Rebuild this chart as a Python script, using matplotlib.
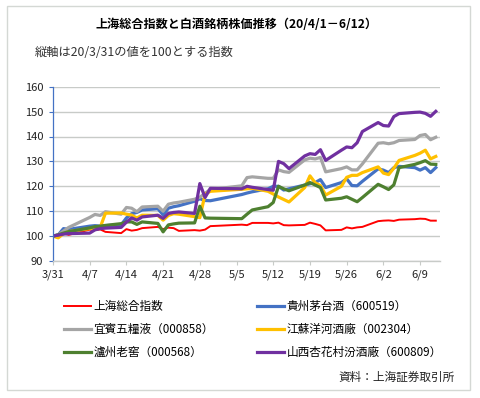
import matplotlib
matplotlib.use('Agg')
import matplotlib.pyplot as plt
import matplotlib.dates as mdates
from matplotlib.patches import Rectangle
import pandas as pd

plt.rcParams['font.family'] = ['Noto Sans CJK JP', 'DejaVu Sans']

# ---------------- data ----------------
dates = ['2020-03-31',
         '2020-04-01', '2020-04-02', '2020-04-03', '2020-04-07', '2020-04-08', '2020-04-09', '2020-04-10',
         '2020-04-13', '2020-04-14', '2020-04-15', '2020-04-16', '2020-04-17',
         '2020-04-20', '2020-04-21', '2020-04-22', '2020-04-23', '2020-04-24',
         '2020-04-27', '2020-04-28', '2020-04-29', '2020-04-30',
         '2020-05-06', '2020-05-07', '2020-05-08',
         '2020-05-11', '2020-05-12', '2020-05-13', '2020-05-14', '2020-05-15',
         '2020-05-18', '2020-05-19', '2020-05-20', '2020-05-21', '2020-05-22',
         '2020-05-25', '2020-05-26', '2020-05-27', '2020-05-28', '2020-05-29',
         '2020-06-01', '2020-06-02', '2020-06-03', '2020-06-04', '2020-06-05',
         '2020-06-08', '2020-06-09', '2020-06-10', '2020-06-11', '2020-06-12']

shanghai = [100.0, 99.4, 101.1, 100.5, 102.6, 102.4, 102.7, 101.7, 101.2, 102.8, 102.2, 102.5, 103.2,
            103.7, 102.8, 103.4, 103.2, 102.1, 102.4, 102.2, 102.6, 104.0,
            104.6, 104.4, 105.3, 105.3, 105.1, 105.4, 104.4, 104.3, 104.5, 105.4, 104.9, 104.3, 102.3,
            102.5, 103.5, 103.1, 103.5, 103.7,
            106.0, 106.2, 106.3, 106.1, 106.6, 106.8, 107.0, 106.9, 106.2, 106.2]
moutai = [100.0, 100.5, 103.0, 102.7, 104.0, 104.2, 104.0, 104.2, 104.5, 107.3, 109.0, 109.5, 110.5,
          111.0, 108.5, 111.2, 111.8, 112.2, 114.0, 115.0, 114.3, 114.2,
          116.7, 117.3, 117.8, 119.0, 120.0, 120.0, 118.5, 119.0, 120.5, 121.0, 121.5, 122.7, 119.5,
          121.5, 123.0, 120.3, 120.2, 122.0,
          127.0, 126.5, 125.5, 127.5, 128.0, 127.5, 126.5, 127.5, 125.5, 127.5]
wuliangye = [100.0, 100.5, 102.0, 103.5, 107.5, 108.7, 108.3, 109.8, 108.8, 111.5, 111.2, 109.8, 111.7,
             112.0, 110.0, 112.8, 113.3, 113.6, 114.8, 115.6, 117.2, 118.7,
             120.2, 123.5, 123.8, 123.2, 123.2, 126.6, 125.9, 125.6, 130.6, 131.3, 131.0, 131.6, 125.8,
             127.1, 127.8, 126.6, 126.6, 129.0,
             137.3, 137.5, 137.1, 137.5, 138.4, 138.8, 140.4, 140.8, 138.7, 139.7]
yanghe = [100.0, 99.3, 101.0, 101.8, 103.0, 103.2, 103.5, 109.2, 109.3, 108.8, 108.4, 107.3, 108.4,
          108.3, 106.4, 108.3, 109.0, 108.8, 107.8, 107.4, 116.8, 118.0,
          118.8, 119.0, 119.2, 118.0, 116.9, 115.7, 114.7, 113.7, 119.5, 124.2, 121.4, 120.3, 116.5,
          120.0, 123.6, 124.4, 124.4, 125.5,
          127.8, 125.3, 124.7, 127.3, 130.4, 132.4, 133.3, 134.5, 131.0, 132.0]
luzhou = [100.0, 100.5, 101.2, 101.8, 103.3, 103.8, 104.0, 104.3, 105.0, 105.7, 105.7, 104.7, 105.7,
          105.1, 101.7, 104.5, 104.9, 105.2, 105.3, 112.0, 107.3, 107.2,
          107.0, 108.8, 110.5, 111.8, 113.5, 120.0, 119.0, 118.2, 120.5, 121.5, 120.5, 119.5, 114.5,
          115.2, 115.8, 114.8, 113.8, 115.5,
          120.8, 119.8, 118.7, 120.6, 127.5, 128.8, 129.5, 130.3, 128.9, 128.8]
fenjiu = [100.0, 100.4, 100.8, 101.0, 101.2, 102.5, 103.0, 103.2, 103.5, 105.6, 107.3, 106.4, 107.7,
          108.4, 107.1, 109.1, 109.5, 109.7, 109.1, 121.1, 115.5, 119.2,
          119.0, 120.0, 119.6, 118.7, 118.4, 130.0, 129.1, 127.1, 132.2, 133.1, 132.8, 134.7, 130.4,
          134.5, 135.8, 135.5, 137.5, 142.0,
          145.6, 144.4, 144.2, 148.0, 149.2, 149.7, 149.8, 149.3, 148.1, 150.1]

series_names = ['上海総合指数', '貴州茅台酒（600519）', '宜賓五糧液（000858）',
                '江蘇洋河酒廠（002304）', '瀘州老窖（000568）', '山西杏花村汾酒廠（600809）']
series_values = [shanghai, moutai, wuliangye, yanghe, luzhou, fenjiu]

tick_dates = ['2020-03-31', '2020-04-07', '2020-04-14', '2020-04-21', '2020-04-28', '2020-05-05',
              '2020-05-12', '2020-05-19', '2020-05-26', '2020-06-02', '2020-06-09']
tick_labels = ['3/31', '4/7', '4/14', '4/21', '4/28', '5/5', '5/12', '5/19', '5/26', '6/2', '6/9']
y_ticks = [90, 100, 110, 120, 130, 140, 150, 160]

title = '上海総合指数と白酒銘柄株価推移（20/4/1－6/12）'
subtitle = '縦軸は20/3/31の値を100とする指数'
source = '資料：上海証券取引所'

# ---------------- style ----------------
colors = ['#FF0000', '#4472C4', '#A5A5A5', '#FFC000', '#4E8030', '#7030A0']
widths = [1.4, 2.3, 2.3, 2.3, 2.3, 2.3]
W, H = 481, 398

fig = plt.figure(figsize=(W / 100, H / 100), dpi=100)
fig.patch.set_facecolor('white')
fig.add_artist(Rectangle((7.5 / W, 1 - 389.5 / H), 462.5 / W, 383.5 / H, transform=fig.transFigure,
                         fill=False, edgecolor='#D4D8D4', linewidth=1.0))

ax = fig.add_axes([53 / W, 1 - 261 / H, (440 - 53) / W, (261 - 86.7) / H])
x = mdates.date2num(pd.to_datetime(dates))
handles = []
for name, vals, c, lw in zip(series_names, series_values, colors, widths):
    h, = ax.plot(x, vals, color=c, linewidth=lw, label=name, solid_joinstyle='round')
    handles.append(h)

x0 = mdates.date2num(pd.Timestamp('2020-03-31'))
ax.set_xlim(x0, x0 + 73.8)
ax.set_ylim(90, 160)
ax.set_yticks(y_ticks)
ax.set_xticks(mdates.date2num(pd.to_datetime(tick_dates)))
ax.set_xticklabels(tick_labels)
ax.grid(axis='y', color='#C8CBC8', linewidth=1.0)
ax.set_axisbelow(True)
for s in ['top', 'right']:
    ax.spines[s].set_visible(False)
ax.spines['left'].set_color('#4472C4')
ax.spines['left'].set_linewidth(0.9)
ax.spines['bottom'].set_color('#C8CBC8')
ax.spines['bottom'].set_linewidth(1.0)
ax.tick_params(axis='y', length=3, color='#4472C4', labelsize=8, pad=4, labelcolor='#222222')
ax.tick_params(axis='x', length=3, color='#C8CBC8', labelsize=8, pad=3, labelcolor='#222222')

fig.text(237 / W, 1 - 24 / H, title, ha='center', va='center', fontsize=8.7, fontweight='bold')
fig.text(35 / W, 1 - 52 / H, subtitle, ha='left', va='center', fontsize=8.8, color='#333333')

order = [0, 2, 4, 1, 3, 5]
fig.legend([handles[i] for i in order], [series_names[i] for i in order],
           loc='upper left', bbox_to_anchor=(64 / W, 1 - 300 / H), ncol=2, frameon=False,
           fontsize=8.4, handlelength=2.3, handletextpad=0.2, columnspacing=3.75,
           labelspacing=0.85, borderpad=0, borderaxespad=0)

fig.text(455 / W, 1 - 377 / H, source, ha='right', va='center', fontsize=8.4, color='#222222')

fig.savefig('out.png', dpi=100)
